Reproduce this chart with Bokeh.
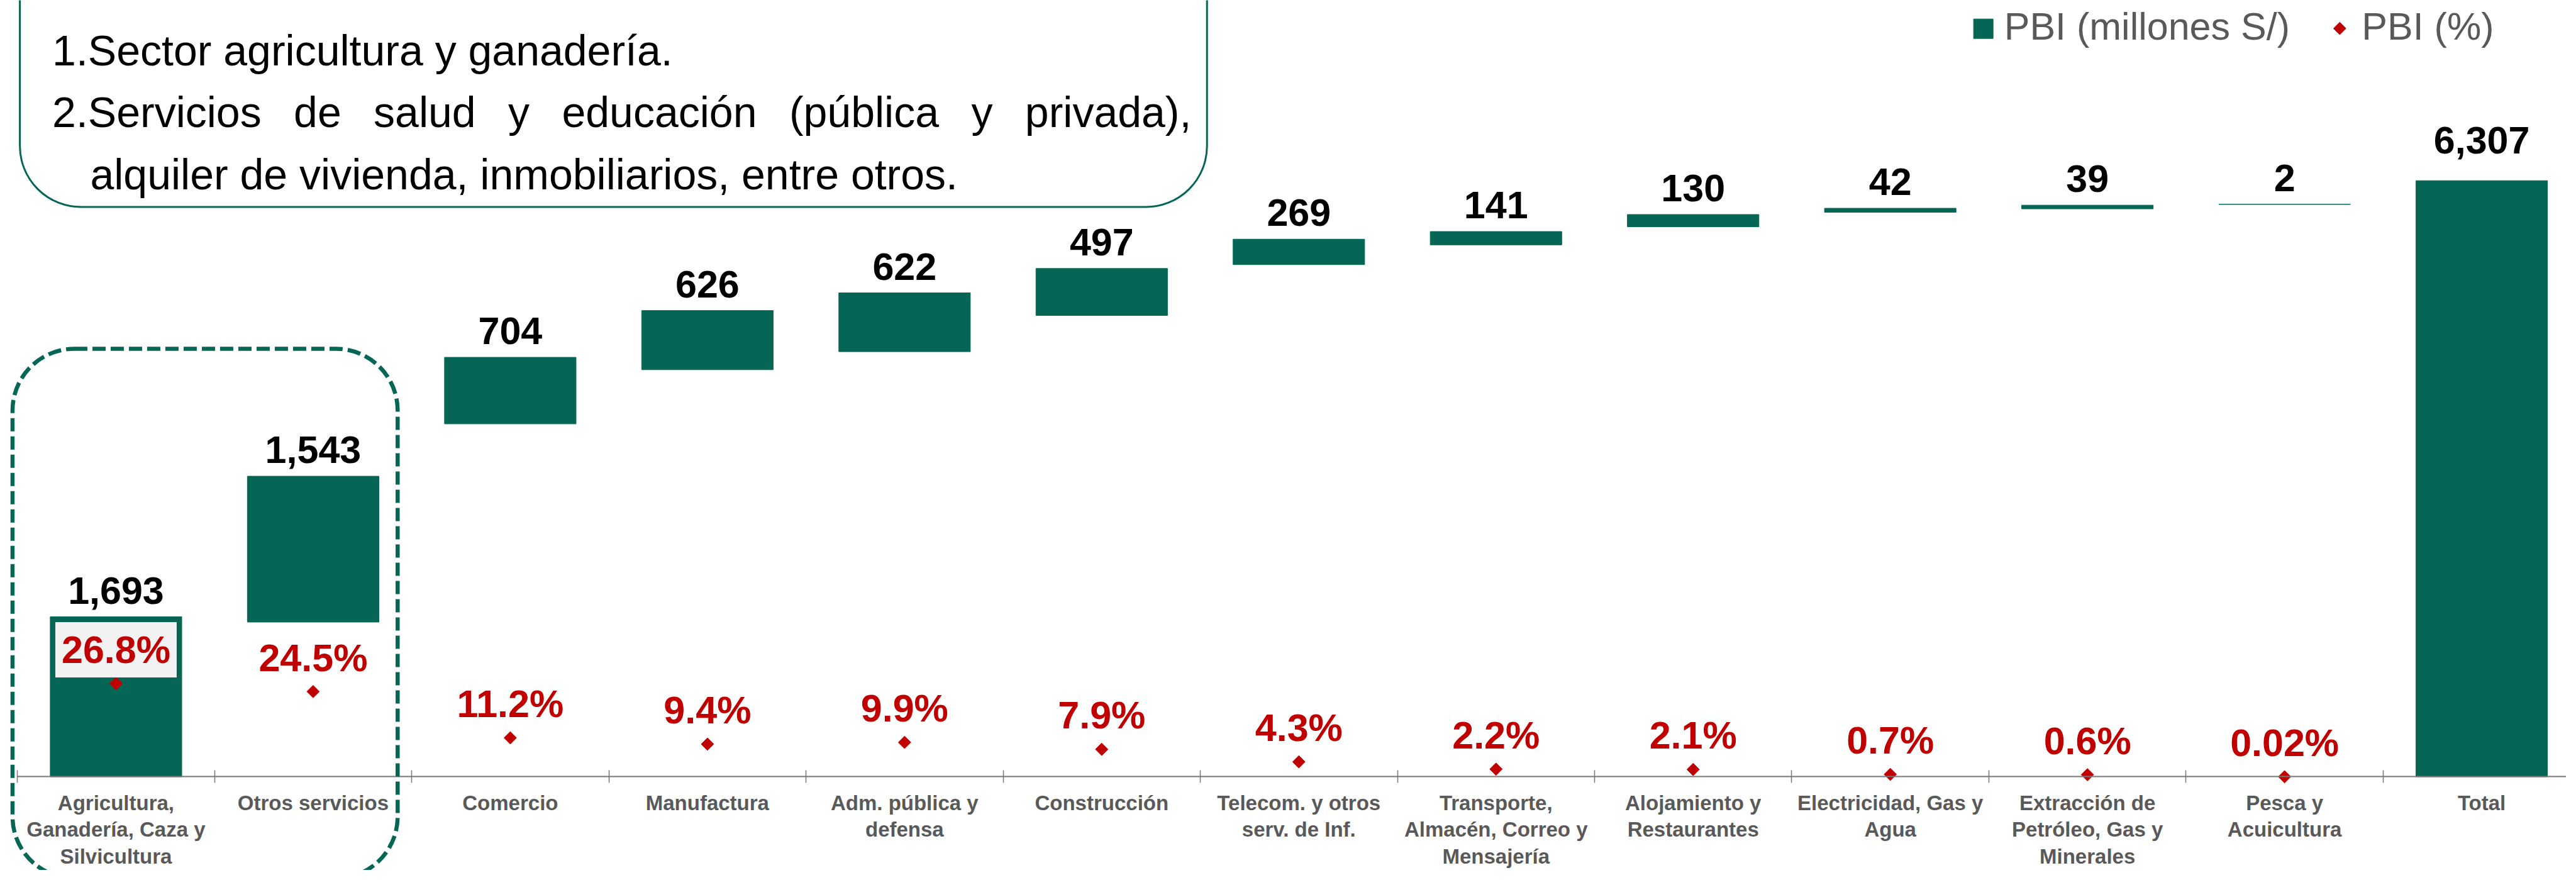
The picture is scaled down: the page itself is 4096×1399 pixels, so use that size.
import math
from bokeh.plotting import figure
from bokeh.models import (ColumnDataSource, Range1d, FixedTicker, BoxAnnotation, Label)
from bokeh.core.properties import value
from bokeh.embed import file_html
from bokeh.resources import INLINE

# ---------------- data ----------------
categories = ["Agricultura", "Otros servicios", "Comercio", "Manufactura", "Adm. pública",
              "Construcción", "Telecom.", "Transporte", "Alojamiento", "Electricidad",
              "Extracción", "Pesca", "Total"]
category_labels = [
    "Agricultura,\nGanadería, Caza y\nSilvicultura",
    "Otros servicios",
    "Comercio",
    "Manufactura",
    "Adm. pública y\ndefensa",
    "Construcción",
    "Telecom. y otros\nserv. de Inf.",
    "Transporte,\nAlmacén, Correo y\nMensajería",
    "Alojamiento y\nRestaurantes",
    "Electricidad, Gas y\nAgua",
    "Extracción de\nPetróleo, Gas y\nMinerales",
    "Pesca y\nAcuicultura",
    "Total",
]
pbi_millones = [1693, 1543, 704, 626, 622, 497, 269, 141, 130, 42, 39, 2, 6307]
# invisible base of each floating bar
pbi_base = [0, 1637, 3734, 4307, 4498, 4881, 5419, 5628, 5819, 5973, 6009, 6056, 0]
pbi_pct = [26.8, 24.5, 11.2, 9.4, 9.9, 7.9, 4.3, 2.2, 2.1, 0.7, 0.6, 0.02]
pbi_pct_labels = ["26.8%", "24.5%", "11.2%", "9.4%", "9.9%", "7.9%", "4.3%", "2.2%",
                  "2.1%", "0.7%", "0.6%", "0.02%"]
note_line1 = "1.Sector agricultura y ganadería."
note_line2_words = ["2.Servicios", "de", "salud", "y", "educación", "(pública", "y", "privada),"]
note_line3 = "alquiler de vivienda, inmobiliarios, entre otros."
legend_labels = ["PBI (millones S/)", "PBI (%)"]

# ---------------- layout ----------------
S = 0.972
W, H = 4080, 1383
GREEN = "#056655"
RED = "#C00000"
AXIS = "#767676"
GRAY = "#595959"
FONT = "Liberation Sans"


def px(r):
    return r * S


cat_px = 322.5 * S
x0_px = px(28)
axis_py = px(1270)
unit_px = (1270 - 295) * S / 6307
pct_px = 5.69 * S


def dx(fx):
    return (fx - x0_px) / cat_px


def dy(fy):
    return (axis_py - fy) / unit_px


p = figure(width=W, height=H,
           x_range=Range1d(dx(0), dx(W)), y_range=Range1d(dy(H), dy(0)),
           output_backend="svg", toolbar_location=None, min_border=0,
           y_axis_location=None, outline_line_color=None,
           background_fill_color="white", border_fill_color="white")
p.extra_y_ranges = {"pct": Range1d(-(H - axis_py) / pct_px, axis_py / pct_px)}
p.grid.visible = False

n = len(categories)
xc = [i + 0.5 for i in range(n)]
tops = [b + v for b, v in zip(pbi_base, pbi_millones)]
src = ColumnDataSource(dict(x=xc, bottom=pbi_base, top=tops))
bars = p.vbar(x="x", bottom="bottom", top="top", width=0.667, source=src,
              fill_color=GREEN, line_color=GREEN, line_width=1)

LBL = 61            # label font size (px)
CAPMID = 0.358 * LBL

# value labels (cap centre placed above bar top)
seg = ColumnDataSource(dict(x=xc[:-1], y=tops[:-1], t=[f"{v:,}" for v in pbi_millones[:-1]]))
tot = ColumnDataSource(dict(x=xc[-1:], y=tops[-1:], t=[f"{v:,}" for v in pbi_millones[-1:]]))
for s_, off in ((seg, -(20 + CAPMID)), (tot, -(42 + CAPMID))):
    p.text(x="x", y="y", text="t", source=s_, text_align="center", text_baseline="middle",
           y_offset=off, text_font=value(FONT), text_font_style="bold",
           text_font_size=f"{LBL}px", text_color="black")

# percentage diamonds + labels
pct_src = ColumnDataSource(dict(x=xc[:-1], y=pbi_pct))
diam = p.scatter(x="x", y="y", source=pct_src, marker="square", angle=math.pi / 4, size=14,
                 fill_color=RED, line_color=RED, y_range_name="pct")
first = ColumnDataSource(dict(x=xc[:1], y=pbi_pct[:1], t=pbi_pct_labels[:1]))
rest = ColumnDataSource(dict(x=xc[1:-1], y=pbi_pct[1:], t=pbi_pct_labels[1:]))
p.text(x="x", y="y", text="t", source=first, text_align="center", text_baseline="middle",
       y_offset=-(32 + CAPMID), text_font=value(FONT), text_font_style="bold",
       text_font_size=f"{LBL}px", text_color=RED, y_range_name="pct",
       background_fill_color="#F2F2F2", padding=10)
p.text(x="x", y="y", text="t", source=rest, text_align="center", text_baseline="middle",
       y_offset=-(32 + CAPMID), text_font=value(FONT), text_font_style="bold",
       text_font_size=f"{LBL}px", text_color=RED, y_range_name="pct")

# category axis
ax = p.xaxis[0]
ax.fixed_location = 0
ax.bounds = (0, n)
ax.ticker = FixedTicker(ticks=xc, minor_ticks=list(range(n + 1)))
ax.major_label_overrides = {x: lab for x, lab in zip(xc, category_labels)}
ax.axis_line_color = AXIS
ax.axis_line_width = 2
ax.major_tick_line_color = None
ax.major_tick_in = 0
ax.major_tick_out = 0
ax.minor_tick_in = 10
ax.minor_tick_out = 10
ax.minor_tick_line_color = AXIS
ax.minor_tick_line_width = 1.5
ax.major_label_text_font = FONT
ax.major_label_text_font_style = "bold"
ax.major_label_text_font_size = "33px"
ax.major_label_text_color = GRAY
ax.major_label_text_line_height = 1.15
ax.major_label_standoff = 13

# legend (keys drawn by hand so the diamond keeps its rotated-square shape)
p.scatter(x=[dx(px(3244))], y=[dy(px(46.5))], marker="square", size=31,
          fill_color=GREEN, line_color=GREEN)
p.scatter(x=[dx(px(3827))], y=[dy(px(46))], marker="square", angle=math.pi / 4, size=14,
          fill_color=RED, line_color=RED)
for txt, rx in zip(legend_labels, (3278, 3863)):
    p.add_layout(Label(x=dx(px(rx)), y=dy(px(43)), text=txt, text_font=FONT,
                       text_font_size="61px", text_color=GRAY,
                       text_baseline="middle", text_align="left"))

# dashed highlight box around the first two sectors
p.add_layout(BoxAnnotation(left=dx(px(20)), right=dx(px(650)), top=dy(px(570)),
                           bottom=dy(px(1436)), fill_alpha=0, line_color=GREEN, line_alpha=1,
                           line_width=6.5, line_dash="21 8", border_radius=98))

# note box
p.add_layout(BoxAnnotation(left=dx(px(32)), right=dx(px(1974)), top=dy(-100),
                           bottom=dy(px(338)), fill_color="white", fill_alpha=1,
                           line_color=GREEN, line_alpha=1, line_width=3, border_radius=97))

NOTE = 68
GAP = " \u00a0\u2009"     # widened word gap: the second line is justified
line2 = GAP.join(note_line2_words)
for txt, rx, ry in zip((note_line1, line2, note_line3), (85, 85, 147), (107, 208, 310)):
    p.add_layout(Label(x=dx(px(rx)), y=dy(px(ry) - 0.358 * NOTE), text=txt,
                       text_font=FONT, text_font_size=f"{NOTE}px", text_color="black",
                       text_baseline="middle", text_align="left"))

open("out.html", "w").write(file_html(p, INLINE))
